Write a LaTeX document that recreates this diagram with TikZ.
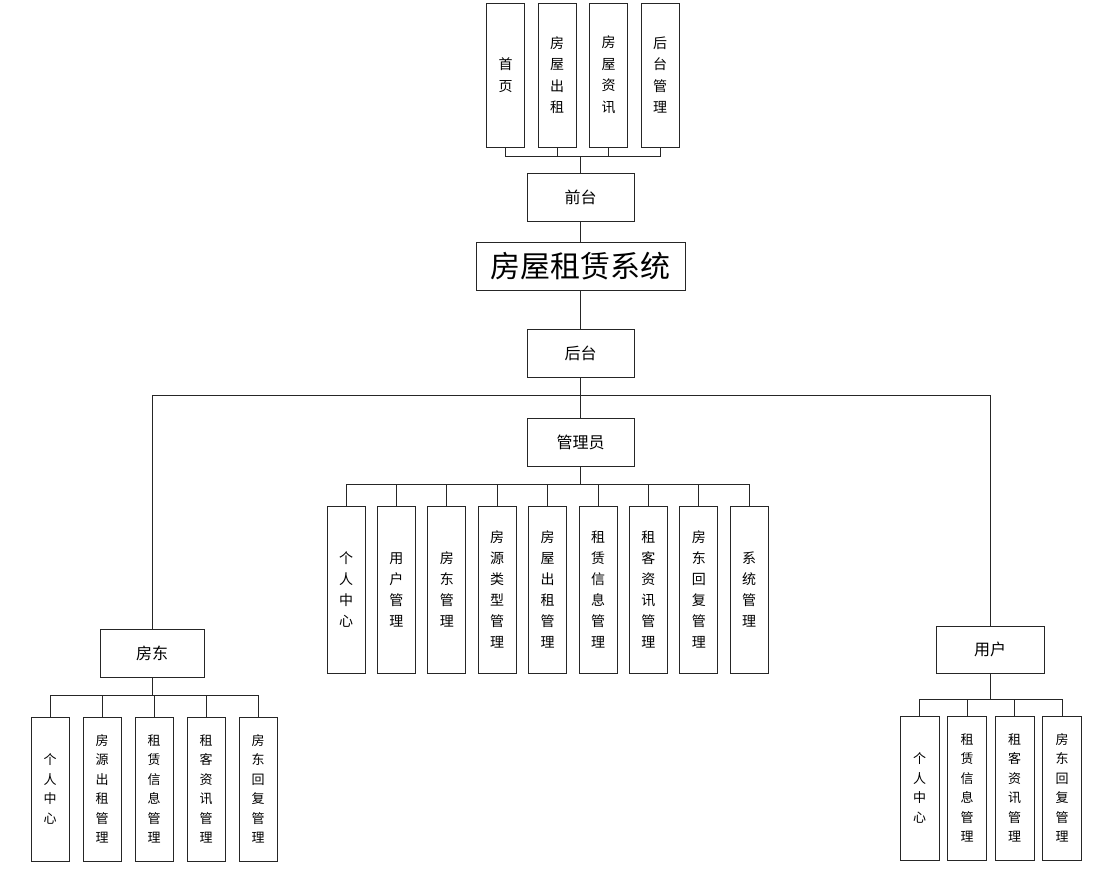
\documentclass[tikz,border=0pt]{standalone}
\usepackage{fontspec}
\setmainfont{Noto Sans CJK SC}
\usetikzlibrary{positioning}

\begin{document}
\begin{tikzpicture}[x=1pt, y=-1pt, node distance = 0pt,
line width=0.8pt, draw=black!85,
BoxStyle/.style={draw=black!85, minimum width=107pt, minimum height=48pt,
                inner sep=0pt, outer sep=0pt, font=\fontsize{16}{16}\selectfont},
TopStyle/.style={draw=black!85, minimum width=38pt, minimum height=144pt,
                inner sep=0pt, outer sep=0pt, align=center,
                font=\fontsize{14}{21.5}\selectfont},
AdminStyle/.style={TopStyle, minimum height=167pt, font=\fontsize{14}{21}\selectfont},
LeafStyle/.style={TopStyle, font=\fontsize{13}{19.5}\selectfont},]
\useasboundingbox (0,0) rectangle (1101,881);
\node [TopStyle] at (505.5, 75) (t1) {首\\页};
\node [TopStyle, right=13.5pt of t1] (t2) {房\\屋\\出\\租};
\node [TopStyle, right=13.5pt of t2] (t3) {房\\屋\\资\\讯};
\node [TopStyle, right=13.5pt of t3] (t4) {后\\台\\管\\理};
\node [BoxStyle] at (580.5, 197) (qt) {前台};
\node [BoxStyle, minimum width=209pt, font=\fontsize{30}{30}\selectfont] at (580.5, 266) (xt) {房屋租赁系统};
\node [BoxStyle] at (580.5, 353) (ht) {后台};
\node [BoxStyle] at (580.5, 442) (gly) {管理员};
\node [AdminStyle] at (346, 589.5) (a1) {个\\人\\中\\心};
\node [AdminStyle, right=12.4pt of a1] (a2) {用\\户\\管\\理};
\node [AdminStyle, right=12.4pt of a2] (a3) {房\\东\\管\\理};
\node [AdminStyle, right=12.4pt of a3] (a4) {房\\源\\类\\型\\管\\理};
\node [AdminStyle, right=12.4pt of a4] (a5) {房\\屋\\出\\租\\管\\理};
\node [AdminStyle, right=12.4pt of a5] (a6) {租\\赁\\信\\息\\管\\理};
\node [AdminStyle, right=12.4pt of a6] (a7) {租\\客\\资\\讯\\管\\理};
\node [AdminStyle, right=12.4pt of a7] (a8) {房\\东\\回\\复\\管\\理};
\node [AdminStyle, right=12.4pt of a8] (a9) {系\\统\\管\\理};
\node [BoxStyle, minimum width=104pt] at (152, 653) (fd) {房东};
\node [LeafStyle] at (50, 789) (f1) {个\\人\\中\\心};
\node [LeafStyle, right=14pt of f1] (f2) {房\\源\\出\\租\\管\\理};
\node [LeafStyle, right=14pt of f2] (f3) {租\\赁\\信\\息\\管\\理};
\node [LeafStyle, right=14pt of f3] (f4) {租\\客\\资\\讯\\管\\理};
\node [LeafStyle, right=14pt of f4] (f5) {房\\东\\回\\复\\管\\理};
\node [BoxStyle, minimum width=108pt, minimum height=47pt] at (990, 649.5) (yh) {用户};
\node [LeafStyle, minimum width=39pt] at (919.5, 788) (y1) {个\\人\\中\\心};
\node [LeafStyle, minimum width=39pt, right=8.5pt of y1] (y2) {租\\赁\\信\\息\\管\\理};
\node [LeafStyle, minimum width=39pt, right=8.5pt of y2] (y3) {租\\客\\资\\讯\\管\\理};
\node [LeafStyle, minimum width=39pt, right=8.5pt of y3] (y4) {房\\东\\回\\复\\管\\理};

\draw (qt.north) -- ++(0,-17) -| (t1.south);
\draw (qt.north) -- ++(0,-17) -| (t2.south);
\draw (qt.north) -- ++(0,-17) -| (t3.south);
\draw (qt.north) -- ++(0,-17) -| (t4.south);
\draw (qt.south) -- (xt.north);
\draw (xt.south) -- (ht.north);
\draw (ht.south) -- (gly.north);
\draw (ht.south) -- ++(0,18) -| (fd.north);
\draw (ht.south) -- ++(0,18) -| (yh.north);
\draw (gly.south) -- ++(0,18) -| (a1.north);
\draw (gly.south) -- ++(0,18) -| (a2.north);
\draw (gly.south) -- ++(0,18) -| (a3.north);
\draw (gly.south) -- ++(0,18) -| (a4.north);
\draw (gly.south) -- ++(0,18) -| (a5.north);
\draw (gly.south) -- ++(0,18) -| (a6.north);
\draw (gly.south) -- ++(0,18) -| (a7.north);
\draw (gly.south) -- ++(0,18) -| (a8.north);
\draw (gly.south) -- ++(0,18) -| (a9.north);
\draw (fd.south) -- ++(0,18) -| (f1.north);
\draw (fd.south) -- ++(0,18) -| (f2.north);
\draw (fd.south) -- ++(0,18) -| (f3.north);
\draw (fd.south) -- ++(0,18) -| (f4.north);
\draw (fd.south) -- ++(0,18) -| (f5.north);
\draw (yh.south) -- ++(0,26) -| (y1.north);
\draw (yh.south) -- ++(0,26) -| (y2.north);
\draw (yh.south) -- ++(0,26) -| (y3.north);
\draw (yh.south) -- ++(0,26) -| (y4.north);
\end{tikzpicture}
\end{document}
